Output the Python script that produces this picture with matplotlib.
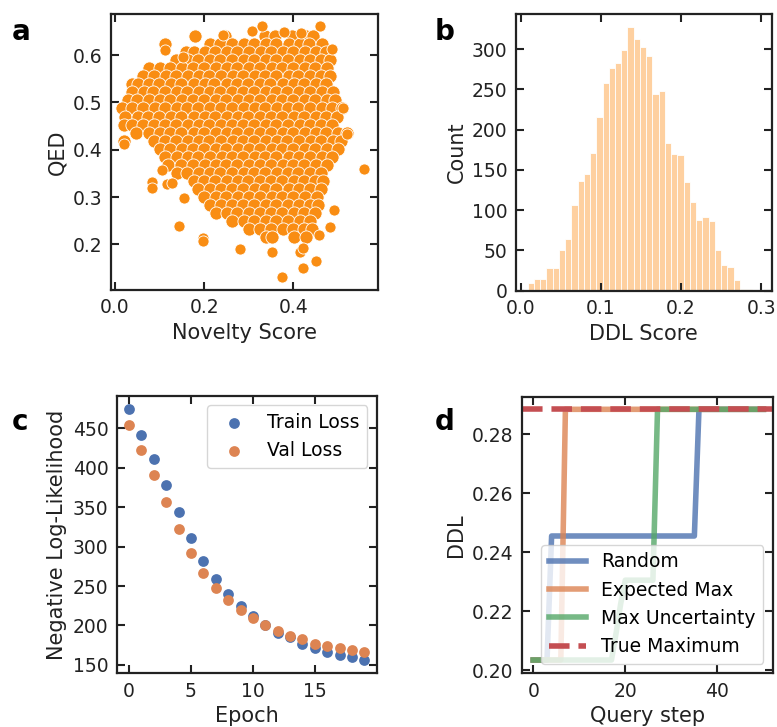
import numpy as np
import matplotlib
matplotlib.use("Agg")
import matplotlib.pyplot as plt

plt.rcParams['font.family'] = ['DejaVu Sans']

# ---------------- Panel a: Novelty vs QED ----------------
qed_rows = [0.640, 0.623, 0.606, 0.589, 0.572, 0.555, 0.538, 0.521, 0.504, 0.487,
            0.470, 0.453, 0.436, 0.419, 0.402, 0.385, 0.368, 0.351, 0.334, 0.317,
            0.300, 0.283, 0.266, 0.249, 0.232, 0.215]
novelty_rows = [
    [0.180, 0.246, 0.336, 0.358, 0.397, 0.428, 0.445],
    [0.112, 0.214, 0.236, 0.263, 0.290, 0.311, 0.339, 0.361, 0.389, 0.414, 0.436, 0.463],
    [0.160, 0.176, 0.201, 0.224, 0.252, 0.274, 0.301, 0.327, 0.349, 0.376, 0.398, 0.426, 0.451, 0.474],
    [0.136, 0.164, 0.187, 0.214, 0.236, 0.263, 0.289, 0.311, 0.339, 0.362, 0.387, 0.414, 0.437, 0.462, 0.481],
    [0.076, 0.101, 0.124, 0.151, 0.174, 0.199, 0.226, 0.251, 0.273, 0.301, 0.324, 0.352, 0.374, 0.399, 0.427, 0.449, 0.476],
    [0.063, 0.087, 0.114, 0.137, 0.163, 0.189, 0.211, 0.238, 0.264, 0.286, 0.313, 0.337, 0.362, 0.389, 0.411, 0.438, 0.461, 0.482],
    [0.038, 0.052, 0.076, 0.099, 0.126, 0.149, 0.176, 0.201, 0.223, 0.251, 0.274, 0.299, 0.326, 0.348, 0.376, 0.401, 0.424, 0.451, 0.474],
    [0.037, 0.064, 0.086, 0.113, 0.139, 0.161, 0.188, 0.214, 0.236, 0.263, 0.288, 0.311, 0.339, 0.362, 0.386, 0.413, 0.437, 0.464, 0.489],
    [0.028, 0.049, 0.076, 0.101, 0.124, 0.151, 0.174, 0.199, 0.226, 0.249, 0.276, 0.301, 0.324, 0.351, 0.374, 0.399, 0.426, 0.449, 0.476, 0.494],
    [0.016, 0.038, 0.063, 0.089, 0.111, 0.138, 0.162, 0.187, 0.214, 0.237, 0.262, 0.289, 0.313, 0.336, 0.363, 0.388, 0.411, 0.437, 0.463, 0.486, 0.509],
    [0.022, 0.051, 0.074, 0.099, 0.126, 0.149, 0.176, 0.201, 0.224, 0.251, 0.276, 0.299, 0.326, 0.349, 0.374, 0.401, 0.424, 0.451, 0.474, 0.498],
    [0.021, 0.039, 0.062, 0.088, 0.113, 0.137, 0.164, 0.188, 0.211, 0.238, 0.263, 0.286, 0.312, 0.339, 0.361, 0.387, 0.414, 0.438, 0.462, 0.487],
    [0.048, 0.076, 0.101, 0.124, 0.149, 0.176, 0.199, 0.226, 0.251, 0.274, 0.301, 0.324, 0.349, 0.376, 0.399, 0.426, 0.451, 0.474, 0.499, 0.521],
    [0.019, 0.087, 0.113, 0.136, 0.163, 0.188, 0.211, 0.237, 0.264, 0.288, 0.311, 0.338, 0.363, 0.386, 0.412, 0.439, 0.462, 0.488, 0.507],
    [0.101, 0.124, 0.151, 0.174, 0.199, 0.226, 0.249, 0.276, 0.301, 0.324, 0.351, 0.374, 0.399, 0.426, 0.449, 0.476, 0.499],
    [0.112, 0.138, 0.164, 0.187, 0.213, 0.239, 0.262, 0.288, 0.313, 0.337, 0.362, 0.389, 0.412, 0.437, 0.463, 0.487],
    [0.118, 0.149, 0.174, 0.201, 0.226, 0.249, 0.274, 0.301, 0.326, 0.349, 0.376, 0.399, 0.424, 0.451, 0.476],
    [0.139, 0.162, 0.189, 0.213, 0.236, 0.262, 0.289, 0.312, 0.337, 0.363, 0.388, 0.411, 0.438, 0.462],
    [0.176, 0.199, 0.224, 0.251, 0.276, 0.299, 0.326, 0.349, 0.374, 0.401, 0.424, 0.449, 0.466],
    [0.187, 0.213, 0.238, 0.262, 0.288, 0.313, 0.336, 0.362, 0.389, 0.412, 0.437, 0.461],
    [0.199, 0.226, 0.249, 0.276, 0.301, 0.324, 0.351, 0.374, 0.399, 0.426, 0.452],
    [0.213, 0.237, 0.263, 0.288, 0.312, 0.338, 0.361, 0.388, 0.413, 0.437, 0.456],
    [0.226, 0.251, 0.274, 0.301, 0.326, 0.349, 0.374, 0.401, 0.424, 0.449],
    [0.262, 0.289, 0.311, 0.338, 0.362, 0.387, 0.414, 0.437],
    [0.301, 0.326, 0.349, 0.376, 0.399, 0.424, 0.441],
    [0.338, 0.352, 0.401, 0.429],
]
novelty_outliers = [0.307, 0.329, 0.379, 0.417, 0.460, 0.486, 0.511, 0.521, 0.559, 0.490,
                    0.482, 0.458, 0.451, 0.422, 0.374, 0.351, 0.415, 0.422, 0.280, 0.198,
                    0.198, 0.144, 0.155, 0.082, 0.082, 0.116, 0.127, 0.106, 0.019, 0.112,
                    0.153, 0.243]
qed_outliers = [0.651, 0.661, 0.649, 0.647, 0.661, 0.612, 0.489, 0.434, 0.359, 0.272,
                0.237, 0.220, 0.165, 0.151, 0.130, 0.183, 0.184, 0.192, 0.190, 0.213,
                0.206, 0.239, 0.297, 0.332, 0.318, 0.327, 0.329, 0.357, 0.412, 0.611,
                0.596, 0.642]

# ---------------- Panel b: DDL score histogram ----------------
ddl_bin_start = 0.0083
ddl_bin_width = 0.0078
ddl_counts = [10, 14, 14, 28, 28, 51, 64, 107, 136, 145, 171, 216, 258, 276, 283, 299,
              327, 313, 302, 292, 244, 248, 183, 170, 169, 135, 110, 88, 91, 86, 50, 32,
              29, 13, 2, 2, 1]

# ---------------- Panel c: training curves ----------------
epochs = list(range(20))
train_loss = [474, 442, 411, 378, 344, 311, 282, 259, 240, 225, 212, 200, 191, 185, 177,
              172, 167, 163, 160, 156]
val_loss = [454, 423, 391, 357, 322, 292, 267, 248, 232, 220, 209, 200, 193, 187, 183,
            177, 174, 171, 169, 167]

# ---------------- Panel d: active learning ----------------
query_step = list(range(51))
random_ddl = [0.2034] * 4 + [0.2455] * 32 + [0.2885] * 15
expected_max_ddl = [0.2034] * 7 + [0.2885] * 44
max_unc_ddl = [0.2034] * 18 + [0.2125, 0.2225] + [0.2305] * 7 + [0.2885] * 24
true_max = 0.2885

# ---------------- styling ----------------
dark = '#222222'
tick_fs = 13.5
label_fs = 15

fig = plt.figure(figsize=(7.77, 7.27), dpi=100)

def style(ax):
    for s in ax.spines.values():
        s.set_linewidth(1.6)
        s.set_color(dark)
    ax.tick_params(direction='in', top=True, right=True, length=6, width=1.5,
                   labelsize=tick_fs, colors=dark, pad=6)

ax_a = fig.add_axes([0.1429, 0.6011, 0.3432, 0.3796])
ax_b = fig.add_axes([0.6641, 0.6001, 0.3291, 0.3806])
ax_c = fig.add_axes([0.1502, 0.0739, 0.3346, 0.3814])
ax_d = fig.add_axes([0.6714, 0.0739, 0.3230, 0.3805])

# Panel a
xs, ys = [], []
for y, row in zip(qed_rows, novelty_rows):
    xs.extend(row)
    ys.extend([y] * len(row))
scatter_color = '#F98D13'
ax_a.scatter(xs, ys, s=90, color=scatter_color, edgecolor='white', linewidth=0.6, zorder=2)
ax_a.scatter(novelty_outliers, qed_outliers, s=64, color=scatter_color, edgecolor='white',
             linewidth=0.6, zorder=2)
ax_a.set_xlim(-0.009, 0.589)
ax_a.set_ylim(0.1035, 0.6866)
ax_a.set_xticks([0.0, 0.2, 0.4])
ax_a.set_yticks([0.2, 0.3, 0.4, 0.5, 0.6])
ax_a.set_xlabel('Novelty Score', fontsize=label_fs, color=dark)
ax_a.set_ylabel('QED', fontsize=label_fs, color=dark)
style(ax_a)

# Panel b
edges = [ddl_bin_start + i * ddl_bin_width for i in range(len(ddl_counts))]
ax_b.bar(edges, ddl_counts, width=ddl_bin_width, align='edge', color='#FED0A0',
         edgecolor='white', linewidth=0.6)
ax_b.set_xlim(-0.0062, 0.3133)
ax_b.set_ylim(0, 343.5)
ax_b.set_xticks([0.0, 0.1, 0.2, 0.3])
ax_b.set_yticks([0, 50, 100, 150, 200, 250, 300])
ax_b.set_xlabel('DDL Score', fontsize=label_fs, color=dark)
ax_b.set_ylabel('Count', fontsize=label_fs, color=dark)
style(ax_b)

# Panel c
ax_c.scatter(epochs, train_loss, s=60, color='#4C72B0', linewidth=0, label='Train Loss', zorder=2)
ax_c.scatter(epochs, val_loss, s=60, color='#DD8452', linewidth=0, label='Val Loss', zorder=3)
ax_c.set_xlim(-1, 20)
ax_c.set_ylim(139.4, 491)
ax_c.set_xticks([0, 5, 10, 15])
ax_c.set_yticks([150, 200, 250, 300, 350, 400, 450])
ax_c.set_xlabel('Epoch', fontsize=label_fs, color=dark)
ax_c.set_ylabel('Negative Log-Likelihood', fontsize=label_fs, color=dark)
ax_c.legend(loc='upper right', fontsize=tick_fs, framealpha=0.8)
style(ax_c)

# Panel d
lw = 4
ax_d.plot(query_step, random_ddl, color='#4C72B0', lw=lw, alpha=0.8, label='Random')
ax_d.plot(query_step, expected_max_ddl, color='#DD8452', lw=lw, alpha=0.8, label='Expected Max')
ax_d.plot(query_step, max_unc_ddl, color='#55A868', lw=lw, alpha=0.8, label='Max Uncertainty')
ax_d.axhline(true_max, color='#C44E52', lw=lw, ls='--', label='True Maximum')
ax_d.set_xlim(-2.5, 52)
ax_d.set_ylim(0.1989, 0.2928)
ax_d.set_xticks([0, 20, 40])
ax_d.set_yticks([0.20, 0.22, 0.24, 0.26, 0.28])
ax_d.set_xlabel('Query step', fontsize=label_fs, color=dark)
ax_d.set_ylabel('DDL', fontsize=label_fs, color=dark)
ax_d.legend(loc='lower right', fontsize=tick_fs, framealpha=0.8)
style(ax_d)

for lab, x, y in [('a', 12, 40), ('b', 435, 40), ('c', 12, 430), ('d', 435, 430)]:
    fig.text(x / 777, 1 - y / 727, lab, fontsize=20, fontweight='bold', ha='left', va='baseline')

fig.savefig('out.png', dpi=100)
